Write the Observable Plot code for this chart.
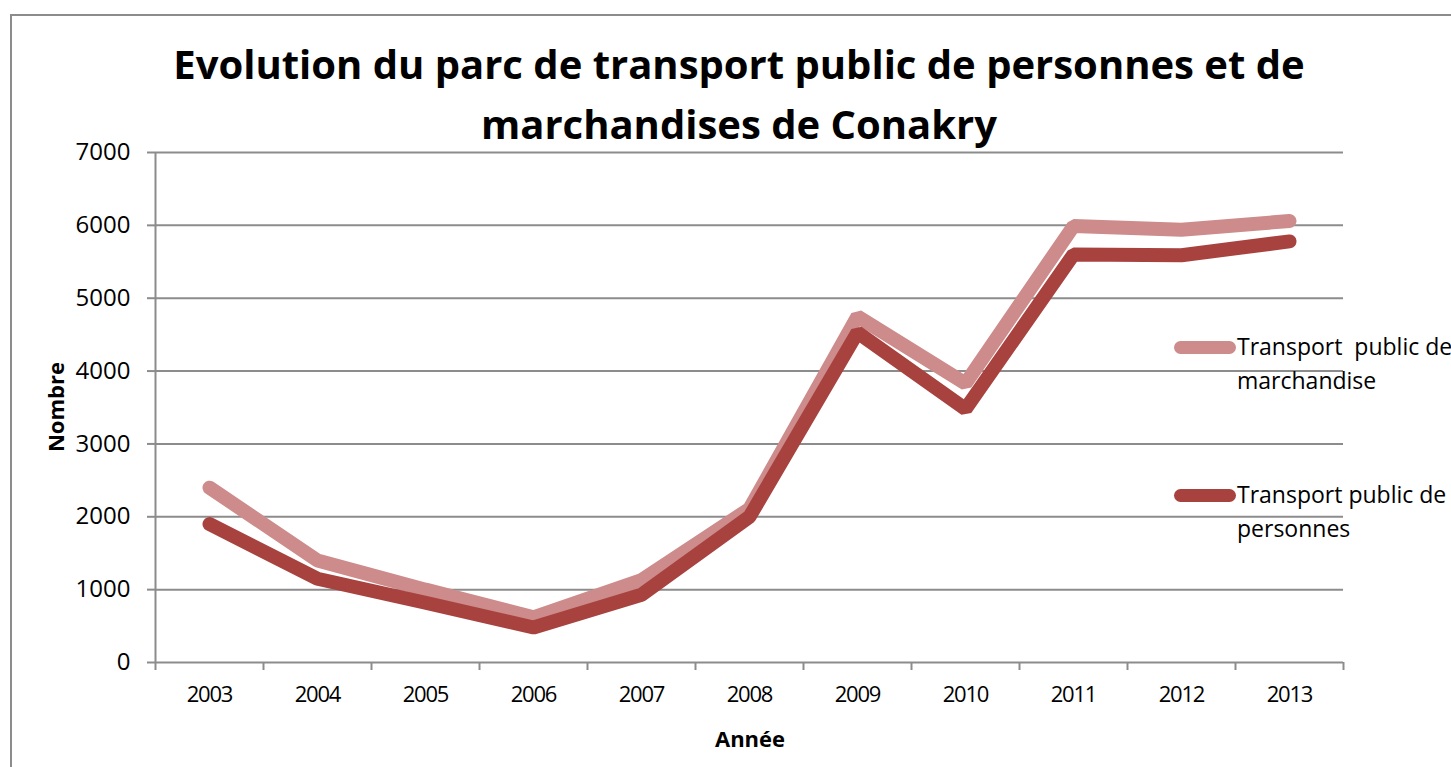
<!DOCTYPE html>
<html>
<head>
<meta charset="utf-8">
<script src="https://cdn.jsdelivr.net/npm/d3@7"></script>
<script src="https://cdn.jsdelivr.net/npm/@observablehq/plot@0.6"></script>
<style>
  html, body { margin: 0; padding: 0; background: #fff; overflow: hidden; }
  #wrap { position: relative; width: 1451px; height: 767px; font-family: "Open Sans", sans-serif; color: #000; }
  #border { position: absolute; left: 10px; top: 14px; width: 1500px; height: 800px; border: 2px solid #8c8c8c; box-sizing: border-box; }
  #chart { position: absolute; left: 0; top: 0; }
  #title { position: absolute; left: 0; width: 1478px; top: 34px; text-align: center; font-weight: 700; font-size: 40px; line-height: 60px; }
  .axt { position: absolute; font-weight: 700; font-size: 22px; }
  .leg { position: absolute; font-size: 23px; line-height: 34px; white-space: nowrap; }
  .sw { position: absolute; width: 62px; height: 13px; border-radius: 7px; }
  .xlab text { letter-spacing: -1.2px; }
</style>
</head>
<body>
<div id="wrap">
  <div id="border"></div>
  <div id="chart"></div>
  <div id="title">Evolution du parc de transport public de personnes et de<br>marchandises de Conakry</div>
  <div class="axt" id="ytitle" style="left:55px; top:407px; transform: translate(-50%,-50%) rotate(-90deg);">Nombre</div>
  <div class="axt" id="xtitle" style="left:750px; top:738px; transform: translate(-50%,-50%);">Année</div>
  <div id="legend"></div>
</div>
<script>
const years = [2003, 2004, 2005, 2006, 2007, 2008, 2009, 2010, 2011, 2012, 2013];
const marchandise = [2400, 1400, 1000, 620, 1130, 2110, 4750, 3830, 5990, 5940, 6060];
const personnes = [1900, 1150, 820, 480, 930, 2000, 4530, 3480, 5600, 5590, 5780];
const seriesNames = ["Transport  public de marchandise", "Transport public de personnes"];
const seriesColors = ["#cd8b8b", "#a8423f"];
const yTicks = [0, 1000, 2000, 3000, 4000, 5000, 6000, 7000];

const idx = years.map((_, i) => i);
const rowsM = idx.map(i => ({i, v: marchandise[i]}));
const rowsP = idx.map(i => ({i, v: personnes[i]}));
const boundaries = idx.map(i => i - 0.5).concat([years.length - 0.5]);

const grid = "#8c8c8c";
const plot = Plot.plot({
  width: 1451,
  height: 767,
  marginLeft: 155,
  marginRight: 108,
  marginTop: 152,
  marginBottom: 105,
  style: {fontFamily: "Open Sans, sans-serif", color: "#000", background: "transparent"},
  x: {type: "linear", domain: [-0.5, years.length - 0.5], axis: null},
  y: {domain: [0, 7000], axis: null},
  marks: [
    Plot.ruleY(yTicks, {stroke: grid, strokeWidth: 2}),
    Plot.ruleX([-0.5], {y1: 0, y2: 7000, stroke: grid, strokeWidth: 2}),
    Plot.axisY({ticks: yTicks, tickSize: 8, tickPadding: 17, stroke: grid, strokeWidth: 2, tickFormat: d => String(d), fill: "#000", fontSize: 24, label: null}),
    Plot.axisX({ticks: boundaries, tickSize: 8, tickFormat: () => "", stroke: grid, strokeWidth: 2, label: null}),
    Plot.axisX({ticks: idx, tickSize: 0, tickPadding: 24, tickFormat: i => String(years[i]), fill: "#000", fontSize: 22, className: "xlab", label: null}),
    Plot.line(rowsM, {x: "i", y: "v", stroke: seriesColors[0], strokeWidth: 14, strokeLinecap: "round", strokeLinejoin: "miter"}),
    Plot.line(rowsP, {x: "i", y: "v", stroke: seriesColors[1], strokeWidth: 14, strokeLinecap: "round", strokeLinejoin: "miter"})
  ]
});
document.getElementById("chart").appendChild(plot);

// legend
const legend = document.getElementById("legend");
const legendItems = [
  {lines: ["Transport&nbsp; public de", "marchandise"], color: seriesColors[0], top: 347},
  {lines: ["Transport public de", "personnes"], color: seriesColors[1], top: 495}
];
legendItems.forEach(it => {
  const sw = document.createElement("div");
  sw.className = "sw";
  sw.style.left = "1174px";
  sw.style.top = (it.top - 6.5) + "px";
  sw.style.background = it.color;
  legend.appendChild(sw);
  const t = document.createElement("div");
  t.className = "leg";
  t.style.left = "1237px";
  t.style.top = (it.top - 18) + "px";
  t.innerHTML = it.lines.join("<br>");
  legend.appendChild(t);
});
</script>
</body>
</html>
